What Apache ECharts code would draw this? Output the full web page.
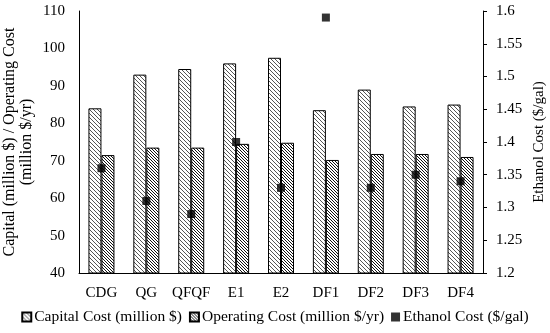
<!DOCTYPE html>
<html><head><meta charset="utf-8">
<script src="https://cdn.jsdelivr.net/npm/echarts@6/dist/echarts.min.js"></script>
<style>html,body{margin:0;padding:0;background:#fff}#c{width:550px;height:333px}</style>
</head><body><div id="c"></div>
<script>
var categories = ['CDG','QG','QFQF','E1','E2','DF1','DF2','DF3','DF4'];
var capitalCost = [84, 93, 94.5, 96, 97.5, 83.5, 89, 84.5, 85];
var operatingCost = [71.5, 73.5, 73.5, 74.5, 74.8, 70.2, 71.8, 71.8, 71];
var ethanolCost = [1.36, 1.31, 1.29, 1.40, 1.33, 1.59, 1.33, 1.35, 1.34];
var leftTicks = [40, 110, 10];
var rightTicks = [1.2, 1.6, 0.05];

function hatch(step, color, bg, thick) {
  var c = document.createElement('canvas');
  c.width = step; c.height = step;
  var ctx = c.getContext('2d');
  ctx.fillStyle = bg; ctx.fillRect(0, 0, step, step);
  ctx.fillStyle = color;
  for (var y = 0; y < step; y++) {
    for (var t = 0; t < thick; t++) {
      var x = (y + t) % step;
      ctx.fillRect(x, y, 1, 1);
    }
  }
  return {image: c, repeat: 'repeat'};
}
var capPat = hatch(4, '#555', '#fff', 1);
var opPat = hatch(3, '#111', '#fff', 1);
var font = 'Liberation Serif';
var chart = echarts.init(document.getElementById('c'));
chart.setOption({
  animation: false,
  textStyle: {fontFamily: font, color: '#000'},
  grid: {left: 79, right: 67, top: 11, bottom: 60, containLabel: false, outerBoundsMode: 'none'},
  legend: {
    bottom: 3, left: 'center', itemWidth: 9, itemHeight: 9, itemGap: 7,
    textStyle: {fontFamily: font, fontSize: 15.5, color: '#000', padding: [0, 0, 0, -2]},
    data: [
      {name: 'Capital Cost (million $)', icon: 'rect'},
      {name: 'Operating Cost (million $/yr)', icon: 'rect'},
      {name: 'Ethanol Cost ($/gal)', icon: 'rect'}
    ]
  },
  xAxis: {
    type: 'category', data: categories,
    axisLine: {lineStyle: {color: '#000'}},
    axisTick: {show: false},
    axisLabel: {interval: 0, fontFamily: font, fontSize: 15, color: '#000', margin: 13}
  },
  yAxis: [{
    type: 'value', min: leftTicks[0], max: leftTicks[1], interval: leftTicks[2],
    name: 'Capital (million $) / Operating Cost\n(million $/yr)',
    nameLocation: 'middle', nameGap: 44, nameRotate: 90, nameMoveOverlap: false,
    nameTextStyle: {fontFamily: font, fontSize: 16, color: '#000', lineHeight: 17},
    axisLine: {show: true, lineStyle: {color: '#000'}},
    axisTick: {show: false},
    splitLine: {show: false},
    axisLabel: {fontFamily: font, fontSize: 15, color: '#000', margin: 14}
  }, {
    type: 'value', min: rightTicks[0], max: rightTicks[1], interval: rightTicks[2],
    position: 'right',
    name: 'Ethanol Cost ($/gal)',
    nameLocation: 'middle', nameGap: 49, nameRotate: 90, nameMoveOverlap: false,
    nameTextStyle: {fontFamily: font, fontSize: 15, color: '#000'},
    axisLine: {show: true, lineStyle: {color: '#000'}},
    axisTick: {show: true, length: 4, lineStyle: {color: '#000'}},
    splitLine: {show: false},
    axisLabel: {fontFamily: font, fontSize: 15, color: '#000', margin: 13,
      formatter: function (v) { return String(parseFloat(v.toFixed(2))); }}
  }],
  series: [{
    name: 'Capital Cost (million $)', type: 'bar', data: capitalCost,
    barWidth: 13, barGap: '0%',
    itemStyle: {color: capPat, borderColor: '#000', borderWidth: 1}
  }, {
    name: 'Operating Cost (million $/yr)', type: 'bar', data: operatingCost,
    barWidth: 13, barGap: '0%',
    itemStyle: {color: opPat, borderColor: '#000', borderWidth: 1}
  }, {
    name: 'Ethanol Cost ($/gal)', type: 'scatter', yAxisIndex: 1, data: ethanolCost,
    symbol: 'rect', symbolSize: 8, z: 5,
    itemStyle: {color: '#000'}
  }]
});
</script></body></html>
